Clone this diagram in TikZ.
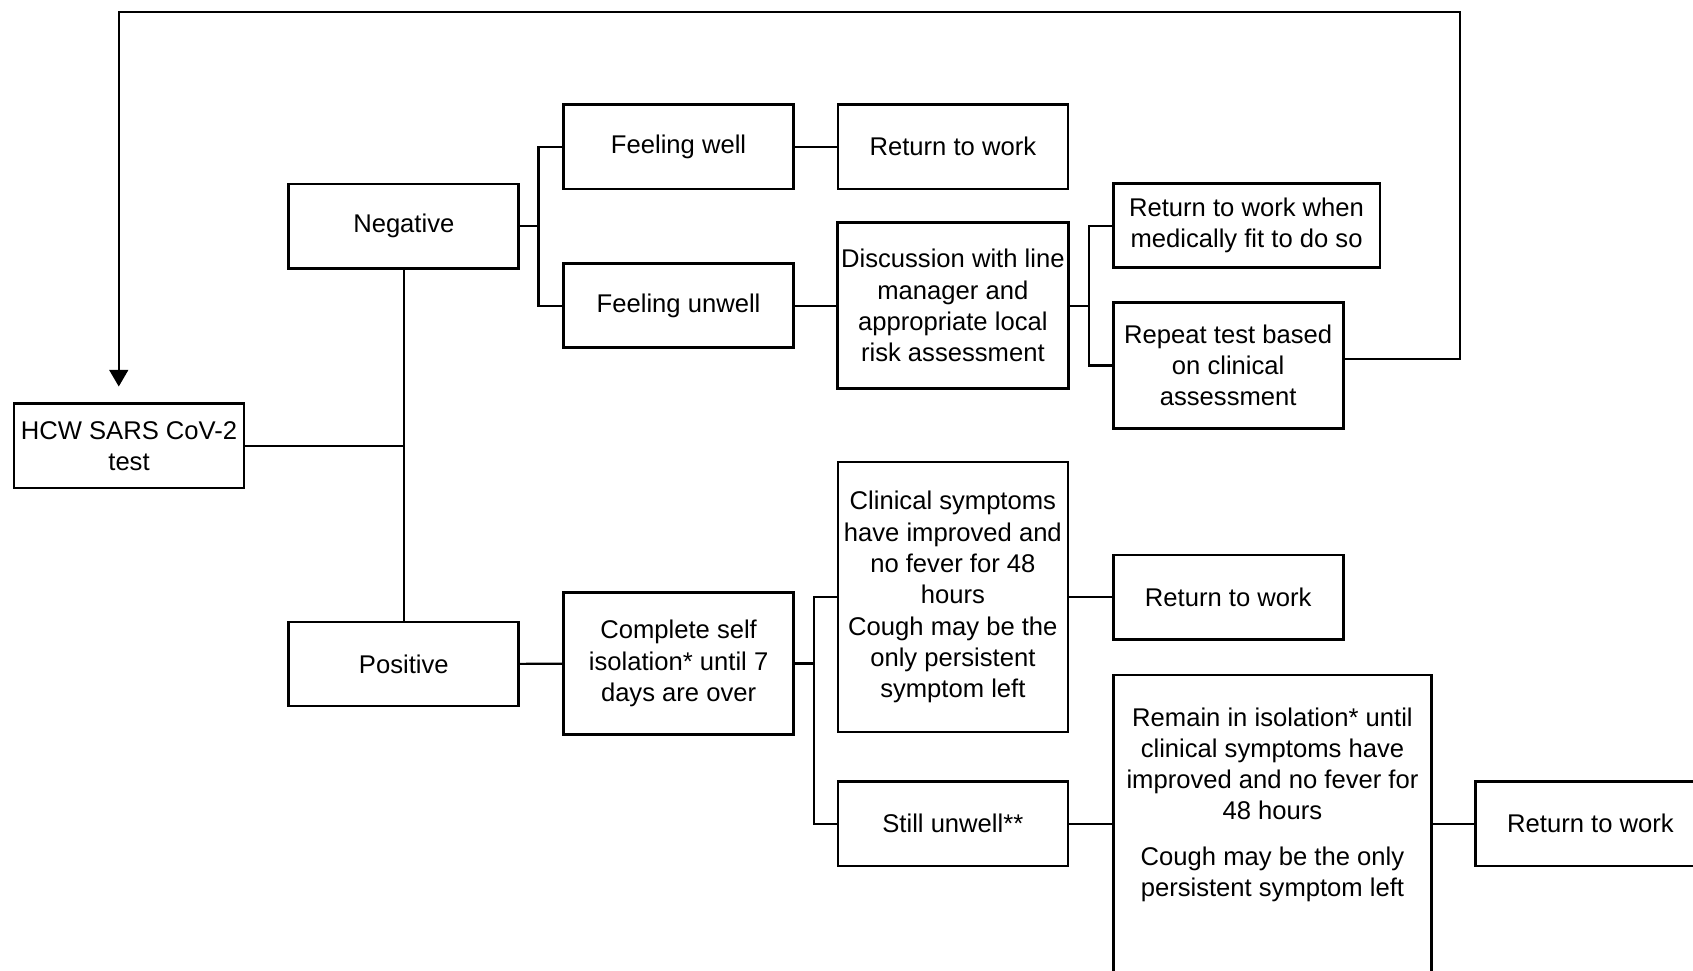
\documentclass[tikz,border=0pt]{standalone}
\usepackage{fontspec}
\setmainfont{Liberation Sans}
\usetikzlibrary{arrows.meta}

\begin{document}
\begin{tikzpicture}[x=0.2mm, y=-0.2mm,
  box/.style={draw, line width=1.4pt, minimum width=4.26cm, minimum height=1.56cm,
    align=center, inner sep=2pt, font=\fontsize{13.5}{16.5}\selectfont},
  link/.style={line width=1.1pt}]

  \clip (0,0) rectangle (1568,899);

  \begin{scope}
    \node[box] (test) at (119.5,413) {HCW SARS CoV-2\\test};
    \node[box] (neg) at (374,209.5) {Negative};
    \node[box] (pos) at (374,615) {Positive};
%
    \node[box] (well) at (628.5,136) {Feeling well};
    \node[box] (unwell) at (628.5,283) {Feeling unwell};
    \node[box] (rtwA) at (882.5,136) {Return to work};
    \node[box, minimum height=3.08cm] (disc) at (882.5,283) {Discussion with line\\manager and\\appropriate local\\risk assessment};
    \node[box, minimum width=4.94cm] (fit) at (1154.5,209) {Return to work when\\medically fit to do so};
    \node[box, minimum height=2.34cm] (repeat) at (1137.5,338.5) {Repeat test based\\on clinical\\assessment};
%
    \node[box, minimum height=2.62cm] (iso) at (628.5,614.5) {Complete self\\isolation* until 7\\days are over};
    \node[box, minimum height=5cm] (clin) at (882.5,553) {Clinical symptoms\\have improved and\\no fever for 48\\hours\\Cough may be the\\only persistent\\symptom left};
    \node[box] (rtwB) at (1137.5,553) {Return to work};
    \node[box] (still) at (882.5,763) {Still unwell**};
    \node[box, minimum width=5.9cm, anchor=north, inner ysep=0.6cm] (remain) at (1178.5,624) {Remain in isolation* until\\clinical symptoms have\\improved and no fever for\\48 hours\\[0.26cm]Cough may be the only\\persistent symptom left\\[1.2cm]~};
    \node[box] (rtwC) at (1473,763) {Return to work};
  \end{scope}

  % branches
  \draw[link] (test.east) -- (test.east -| neg.south);
  \draw[link] (neg.south) -- (pos.north);
  \draw[link] (well.west) -- ++(-22,0) coordinate (forkN) |- (unwell.west);
  \draw[link] (neg.east) -- (neg.east -| forkN);
  \draw[link] (well) -- (rtwA);
  \draw[link] (unwell) -- (disc);
  \draw[link] (fit.west) -- ++(-21,0) coordinate (forkD) |- (repeat.west);
  \draw[link] (disc.east) -- (disc.east -| forkD);
  \draw[link] (pos) -- (iso);
  \draw[link] (clin.west) -- ++(-21,0) coordinate (forkP) |- (still.west);
  \draw[link] (iso.east) -- (iso.east -| forkP);
  \draw[link] (clin) -- (rtwB);
  \draw[link] (still) -- (still -| remain.west);
  \draw[link] (remain.east |- rtwC) -- (rtwC);

  % repeat test loops back
  \coordinate (loopR) at (1352,11);
  \coordinate (loopTip) at (110,358);
  \draw[link, -{Triangle[length=3.1mm, width=3.5mm]}] ([yshift=1.2mm]repeat.east) -| (loopR) -| (loopTip);

\end{tikzpicture}
\end{document}
